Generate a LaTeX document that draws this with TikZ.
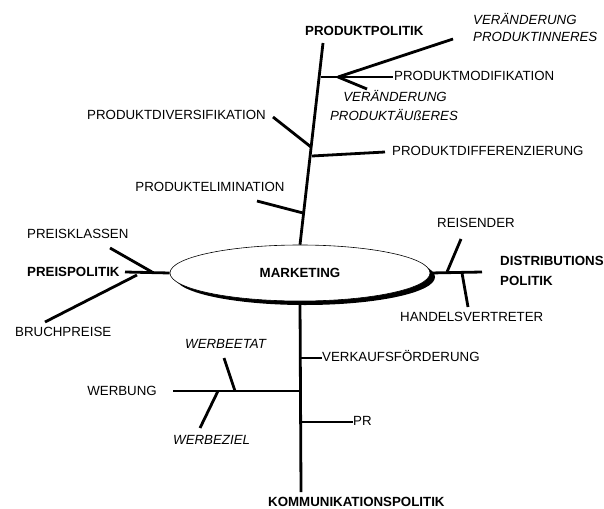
\documentclass[tikz,border=0pt]{standalone}
\usepackage{fontspec}
\setmainfont{Liberation Sans}
\usetikzlibrary{shapes.geometric}
\begin{document}
\begin{tikzpicture}[x=1pt,y=-1pt,
  lbl/.style={inner sep=0pt,text height=9.5pt,text depth=0pt,font=\fontsize{13.3}{15}\selectfont},
  blbl/.style={lbl,font=\fontsize{13.3}{15}\selectfont\bfseries},
  ilbl/.style={lbl,font=\fontsize{13.3}{15}\selectfont\itshape},
  br/.style={line width=2.8pt},
  hub/.style={ellipse,draw,line width=0.6pt,fill=white,minimum width=260pt,minimum height=56pt,inner sep=0pt}]
\useasboundingbox (0,0) rectangle (604,508);
% shadow + ellipse
\fill[black] (305,277) ellipse [x radius=130pt, y radius=28pt];
\node[hub] (m) at (300,273) {};
\node[blbl] (mt) at (m.center) {MARKETING};

% ---------- Produktpolitik
\coordinate (pTop) at (323,43);
\draw[br] (m.north) -- (pTop);
\node[blbl,anchor=west] (pp) at (305,31) {PRODUKTPOLITIK};
% Produktmodifikation
\coordinate (pm0) at (321,77);
\coordinate (pm1) at (393,77);
\coordinate (pmf) at (338,77);
\draw[br] (pm0) -- (pm1);
\node[lbl,anchor=west] (pmt) at (394,76) {PRODUKTMODIFIKATION};
\coordinate (vi) at (453,39);
\coordinate (va) at (367,89);
\draw[br] (pmf) -- (vi);
\draw[br] (pmf) -- (va);
\node[ilbl,anchor=west] (vit1) at (473,20) {VERÄNDERUNG};
\node[ilbl,anchor=west] (vit2) at (473,37) {PRODUKTINNERES};
\node[ilbl] (vat1) at (395,97) {VERÄNDERUNG};
\node[ilbl] (vat2) at (394,116) {PRODUKTÄUßERES};
% Produktdiversifikation
\coordinate (pd0) at (311,147);
\coordinate (pd1) at (273,117);
\draw[br] (pd0) -- (pd1);
\node[lbl,anchor=east] (pdt) at (266,115) {PRODUKTDIVERSIFIKATION};
% Produktdifferenzierung
\coordinate (pz0) at (312,156);
\coordinate (pz1) at (385,152);
\draw[br] (pz0) -- (pz1);
\node[lbl,anchor=west] (pzt) at (392,151) {PRODUKTDIFFERENZIERUNG};
% Produktelimination
\coordinate (pe0) at (303,213);
\coordinate (pe1) at (257,201);
\draw[br] (pe0) -- (pe1);
\node[lbl] (pet) at (210,187) {PRODUKTELIMINATION};

% ---------- Preispolitik
\coordinate (pr0) at (125,272);
\draw[br] (m.west) -- (pr0);
\node[blbl,anchor=west] (prt) at (27,272) {PREISPOLITIK};
\coordinate (pk0) at (152,272);
\coordinate (pk1) at (110,248);
\draw[br] (pk0) -- (pk1);
\node[lbl,anchor=west] (pkt) at (27,234) {PREISKLASSEN};
\coordinate (bp0) at (137,275);
\coordinate (bp1) at (45,322);
\draw[br] (bp0) -- (bp1);
\node[lbl,anchor=west] (bpt) at (15,332) {BRUCHPREISE};

% ---------- Distributionspolitik
\coordinate (d0) at (482,272);
\draw[br] (m.east) -- (d0);
\node[blbl,anchor=west] (dt1) at (500,261) {DISTRIBUTIONS};
\node[blbl,anchor=west] (dt2) at (500,281) {POLITIK};
\coordinate (rs0) at (447,272);
\coordinate (rs1) at (461,239);
\draw[br] (rs0) -- (rs1);
\node[lbl,anchor=west] (rst) at (437,223) {REISENDER};
\coordinate (hv0) at (462,273);
\coordinate (hv1) at (468,307);
\draw[br] (hv0) -- (hv1);
\node[lbl,anchor=west] (hvt) at (400,317) {HANDELSVERTRETER};

% ---------- Kommunikationspolitik
\coordinate (kB) at (301,492);
\draw[br] (m.south) -- (kB);
\node[blbl,anchor=west] (kt) at (268,502) {KOMMUNIKATIONSPOLITIK};
\coordinate (vk0) at (301,358);
\coordinate (vk1) at (322,358);
\draw[br] (vk0) -- (vk1);
\node[lbl,anchor=west] (vkt) at (322,357) {VERKAUFSFÖRDERUNG};
\coordinate (pr0k) at (301,422);
\coordinate (pr1k) at (353,422);
\draw[br] (pr0k) -- (pr1k);
\node[lbl,anchor=west] (prk) at (353,421) {PR};
\coordinate (wb0) at (301,391);
\coordinate (wb1) at (173,391);
\draw[br] (wb0) -- (wb1);
\node[lbl,anchor=east] (wbt) at (157,391) {WERBUNG};
\coordinate (we0) at (235,391);
\coordinate (we1) at (224,358);
\draw[br] (we0) -- (we1);
\node[ilbl,anchor=west] (wet) at (185,344) {WERBEETAT};
\coordinate (wz0) at (218,391);
\coordinate (wz1) at (200,428);
\draw[br] (wz0) -- (wz1);
\node[ilbl,anchor=west] (wzt) at (173,440) {WERBEZIEL};
\end{tikzpicture}
\end{document}
